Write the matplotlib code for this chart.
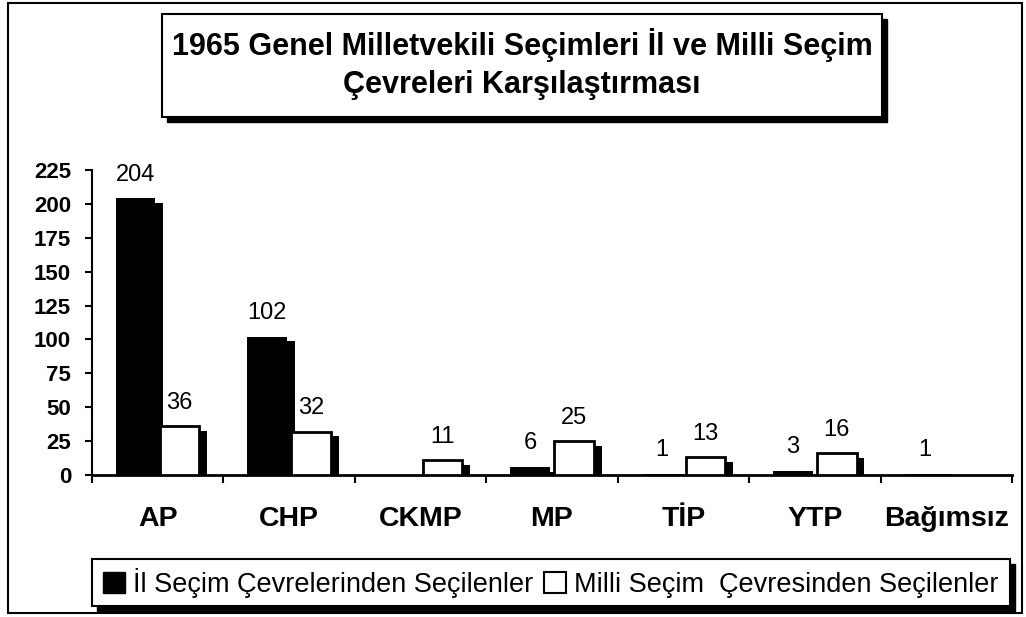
import matplotlib
matplotlib.use("Agg")
import matplotlib.pyplot as plt
from matplotlib.patches import Rectangle, Patch
import numpy as np

plt.rcParams['font.family'] = ['Liberation Sans', 'DejaVu Sans']

# data
partiler = ['AP', 'CHP', 'CKMP', 'MP', 'TİP', 'YTP', 'Bağımsız']
il_secim = [204, 102, 0, 6, 1, 3, 1]
milli_secim = [36, 32, 11, 25, 13, 16, 0]
yticks = [0, 25, 50, 75, 100, 125, 150, 175, 200, 225]

title1 = '1965 Genel Milletvekili Seçimleri İl ve Milli Seçim'
title2 = 'Çevreleri Karşılaştırması'
label_il = 'İl Seçim Çevrelerinden Seçilenler'
label_milli = 'Milli Seçim  Çevresinden Seçilenler'

W, H = 1026, 617
fig = plt.figure(figsize=(W / 100, H / 100), dpi=100)
fig.patch.set_facecolor('white')

def fx(x):
    return x / W

def fy(y):
    return 1 - y / H

def box(x0, y0, x1, y1, sh=5):
    # black drop shadow + white box, given in pixels
    fig.add_artist(Rectangle((fx(x0 + sh), fy(y1 + sh)), fx(x1 - x0), (y1 - y0) / H,
                             transform=fig.transFigure, facecolor='black',
                             edgecolor='black', zorder=1))
    fig.add_artist(Rectangle((fx(x0), fy(y1)), fx(x1 - x0), (y1 - y0) / H,
                             transform=fig.transFigure, facecolor='white',
                             edgecolor='black', lw=1.5, zorder=2))

# outer frame
fig.add_artist(Rectangle((fx(8), fy(613)), fx(1014), 610 / H, transform=fig.transFigure,
                         fill=False, edgecolor='black', lw=1.5))

ax = fig.add_axes([fx(92), fy(475), fx(1012) - fx(92), fy(170) - fy(475)])
ax.set_facecolor('none')

x = np.arange(len(partiler))
il = np.array(il_secim, dtype=float)
milli = np.array(milli_secim, dtype=float)
w = 0.3
off = 0.167
dx = 0.06
dh = 3.5

# il bars (black) with shadow
m = il > 0
ax.bar(x[m] - off + dx, np.maximum(il[m] - dh, 0.8), w, color='black', zorder=2)
ax.bar(x[m] - off, il[m], w, color='black', zorder=3)
# milli bars (white) with shadow
m2 = milli > 0
ax.bar(x[m2] + off + dx, np.maximum(milli[m2] - dh, 0.8), w, color='black', zorder=4)
ax.bar(x[m2] + off, milli[m2], w, facecolor='white', edgecolor='black', lw=2, zorder=5)

for xi, v in zip(x, il_secim):
    if v > 0:
        ax.annotate(str(v), (xi - off, v), xytext=(0, 9), textcoords='offset points',
                    ha='center', va='bottom', fontsize=17)
for xi, v in zip(x, milli_secim):
    if v > 0:
        ax.annotate(str(v), (xi + off, v), xytext=(0, 9), textcoords='offset points',
                    ha='center', va='bottom', fontsize=17)

ax.set_xlim(-0.5, len(partiler) - 0.5)
ax.set_ylim(0, 225)
ax.set_yticks(yticks)
ax.set_yticklabels([str(t) for t in yticks], fontsize=16, fontweight='bold')
ax.tick_params(axis='y', direction='out', length=5, width=1.5, pad=10)

ax.set_xticks(np.arange(-0.5, len(partiler), 1.0))
ax.set_xticklabels([])
ax.tick_params(axis='x', which='major', direction='out', length=6, width=1.5)
ax.set_xticks(x, minor=True)
ax.set_xticklabels(partiler, minor=True, fontsize=20.5, fontweight='bold')
ax.tick_params(axis='x', which='minor', length=0, pad=22)

for s in ['top', 'right']:
    ax.spines[s].set_visible(False)
ax.spines['left'].set_linewidth(1.5)
ax.spines['bottom'].set_linewidth(2)

# title box
box(162, 14, 882, 117)
fig.text(fx(522), fy(45), title1, ha='center', va='center', fontsize=22,
         fontweight='bold', zorder=3)
fig.text(fx(522), fy(85), title2, ha='center', va='center', fontsize=22,
         fontweight='bold', zorder=3)

# legend box
box(92, 559, 1010, 606, sh=5)
handles = [Patch(facecolor='black', edgecolor='black'),
           Patch(facecolor='white', edgecolor='black', lw=1.5)]
fig.legend(handles, [label_il, label_milli], loc='center', ncol=2,
           bbox_to_anchor=(fx(551), fy(583)), frameon=False, fontsize=19.5,
           handlelength=0.8, handleheight=0.8, handletextpad=0.3, columnspacing=0.4)

fig.savefig('out.png', dpi=100)
